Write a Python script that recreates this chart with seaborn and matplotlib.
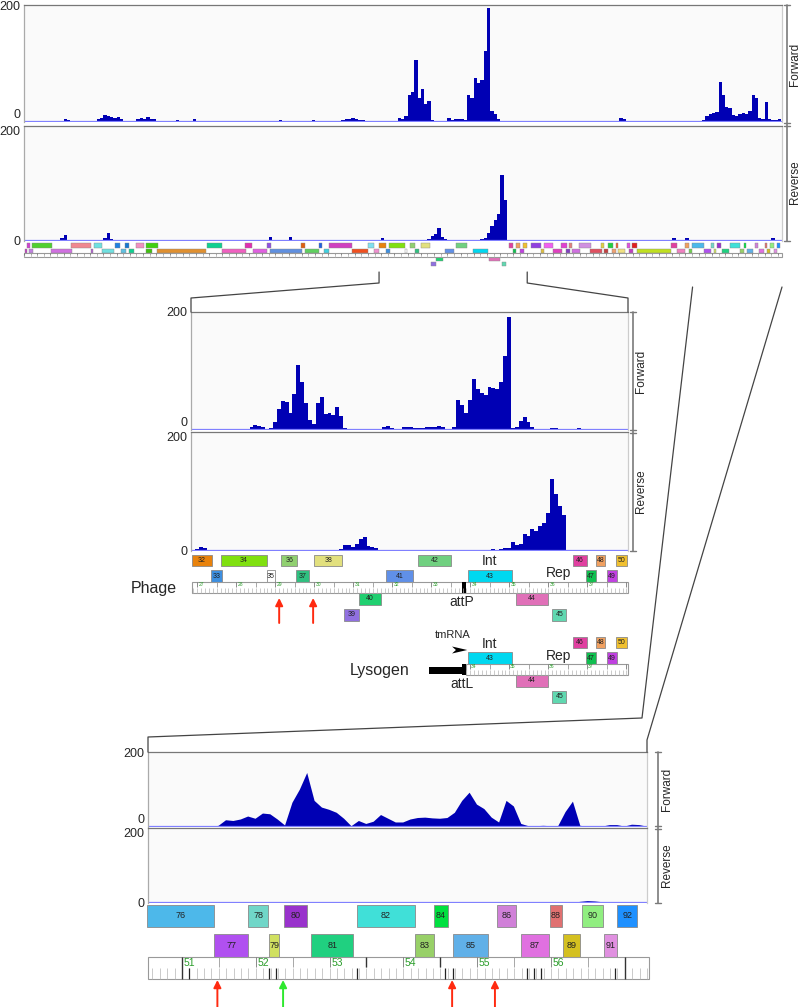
import numpy as np
import pandas as pd
import matplotlib.pyplot as plt
import seaborn as sns
from matplotlib.patches import Rectangle, Polygon

# ---------------- data ----------------
# read coverage over the whole genome, 0.25 kb bins starting at 0 kb
overview_step = 0.25
overview_fwd = [
    0, 1, 0, 1, 1, 0, 1, 1, 0, 1, 1, 1, 3, 2, 1, 1, 0, 1, 1, 1,
    0, 1, 4, 6, 11, 8, 7, 6, 7, 3, 1, 0, 1, 1, 3, 5, 4, 7, 4, 3,
    1, 0, 0, 1, 0, 1, 2, 1, 0, 1, 0, 3, 1, 0, 1, 0, 0, 1, 1, 0,
    0, 1, 0, 1, 1, 1, 0, 0, 1, 0, 1, 1, 0, 0, 1, 1, 0, 2, 1, 0,
    1, 1, 0, 0, 1, 0, 1, 2, 1, 0, 1, 0, 1, 1, 1, 1, 2, 3, 3, 6,
    3, 2, 2, 1, 1, 0, 1, 1, 0, 1, 0, 0, 1, 5, 4, 8, 45, 50, 105, 40,
    55, 30, 35, 2, 1, 0, 1, 1, 5, 2, 3, 3, 4, 2, 45, 40, 75, 65, 70, 120,
    195, 18, 12, 3, 1, 1, 1, 0, 1, 1, 0, 1, 1, 0, 0, 1, 0, 1, 1, 0,
    0, 1, 0, 0, 1, 1, 0, 1, 0, 0, 1, 0, 1, 1, 0, 0, 1, 0, 1, 1,
    5, 4, 1, 0, 1, 0, 0, 1, 1, 0, 1, 0, 0, 1, 0, 1, 1, 0, 1, 0,
    1, 1, 1, 1, 1, 2, 8, 12, 14, 16, 67, 45, 25, 22, 10, 8, 12, 14, 12, 18,
    45, 40, 5, 3, 33, 3, 2, 2, 3, 1,
]
overview_rev = [
    0, 1, 0, 0, 1, 1, 0, 1, 0, 1, 1, 3, 9, 1, 0, 1, 0, 0, 1, 1,
    0, 0, 1, 1, 3, 12, 2, 1, 0, 0, 1, 0, 0, 0, 1, 0, 0, 1, 0, 0,
    0, 0, 1, 0, 0, 0, 1, 0, 0, 0, 0, 0, 0, 1, 0, 0, 0, 0, 1, 0,
    0, 0, 0, 0, 0, 1, 0, 0, 0, 1, 0, 0, 1, 1, 6, 1, 0, 0, 1, 1,
    5, 1, 0, 0, 0, 1, 0, 0, 0, 0, 1, 0, 0, 0, 0, 1, 0, 0, 0, 0,
    1, 1, 0, 0, 0, 1, 1, 1, 4, 1, 0, 0, 0, 0, 0, 0, 0, 0, 0, 0,
    0, 1, 2, 8, 10, 22, 6, 2, 1, 0, 0, 0, 0, 0, 0, 1, 1, 1, 2, 3,
    12, 25, 36, 45, 115, 70, 1, 0, 0, 0, 1, 0, 0, 0, 0, 0, 0, 0, 1, 0,
    0, 0, 0, 0, 0, 0, 0, 1, 0, 0, 0, 0, 0, 0, 0, 1, 0, 0, 0, 0,
    0, 0, 1, 0, 0, 0, 0, 0, 0, 0, 1, 0, 0, 1, 0, 1, 4, 1, 0, 1,
    3, 1, 0, 0, 0, 0, 0, 0, 0, 1, 0, 0, 0, 0, 0, 0, 0, 0, 0, 1,
    0, 0, 0, 0, 0, 1, 3, 1, 0, 1,
]

# phage detail (integrase region), 0.1 kb bins
detail_step = 0.1
phage_start = 26.84
phage_fwd = [
    1, 1, 1, 1, 0, 1, 0, 0, 0, 0, 0, 0, 0, 0, 1, 4, 7, 6, 3, 1,
    2, 12, 35, 48, 46, 28, 60, 110, 80, 45, 15, 8, 45, 55, 25, 28, 24, 38, 22, 2,
    1, 0, 0, 0, 0, 0, 0, 0, 1, 4, 6, 2, 1, 1, 3, 4, 3, 2, 2, 2,
    3, 4, 4, 5, 4, 1, 1, 3, 50, 42, 28, 50, 85, 68, 62, 58, 72, 70, 68, 80,
    125, 192, 2, 3, 14, 20, 12, 4, 1, 1, 1, 1, 2, 2, 1, 1, 1, 0, 1, 2,
    1, 1, 0, 1, 1, 0, 0, 0, 0, 0, 0, 1,
]
phage_rev = [
    0, 2, 5, 3, 0, 0, 0, 1, 0, 0, 0, 0, 0, 0, 0, 1, 0, 0, 0, 0,
    0, 0, 0, 0, 0, 0, 0, 0, 1, 0, 0, 0, 0, 0, 0, 0, 0, 0, 2, 8,
    9, 6, 10, 18, 23, 7, 5, 4, 1, 0, 0, 0, 0, 0, 1, 0, 0, 0, 0, 0,
    0, 0, 0, 0, 0, 0, 0, 0, 0, 0, 0, 0, 0, 0, 1, 1, 1, 2, 1, 2,
    3, 4, 14, 8, 10, 27, 24, 35, 32, 40, 46, 62, 120, 95, 75, 60, 0, 0, 0, 0,
    0, 1, 0, 0, 0, 0, 0, 0, 0, 0, 0, 1,
]

# right end of the genome, 0.1 kb bins
right_start = 50.54
right_fwd = [
    0, 1, 1, 0, 1, 1, 0, 0, 0, 3, 18, 16, 20, 28, 22, 36, 34, 20, 4, 65,
    100, 145, 70, 52, 46, 38, 22, 2, 16, 8, 14, 32, 22, 12, 12, 20, 24, 25, 23, 22,
    24, 38, 70, 92, 60, 48, 25, 12, 70, 55, 8, 2, 2, 3, 2, 2, 40, 68, 3, 1,
    0, 1, 5, 5, 1, 6, 5, 1,
]
right_rev = [
    0, 0, 0, 0, 0, 0, 0, 0, 0, 0, 0, 0, 0, 0, 0, 0, 0, 0, 0, 2,
    1, 0, 0, 0, 0, 0, 0, 0, 0, 0, 0, 0, 0, 0, 0, 0, 0, 0, 0, 0,
    0, 0, 0, 0, 0, 2, 1, 0, 0, 0, 0, 0, 0, 0, 0, 0, 0, 0, 3, 5,
    4, 2, 0, 0, 0, 0, 0, 0,
]

# annotated genes shown in the detail maps (kb); row 0/1 above ruler, 2/3 below
gene_names = ['32', '33', '34', '35', '36', '37', '38', '39', '40', '41', '42', '43',
              '44', '45', '46', '47', '48', '49', '50',
              '76', '77', '78', '79', '80', '81', '82', '83', '84', '85', '86', '87',
              '88', '89', '90', '91', '92']
gene_start = [26.87, 27.35, 27.61, 28.79, 29.15, 29.53, 30.00, 30.76, 31.15, 31.84, 32.66, 33.94,
              35.17, 36.10, 36.63, 36.97, 37.22, 37.51, 37.74,
              50.53, 51.44, 51.90, 52.18, 52.38, 52.75, 53.37, 54.16, 54.41, 54.67, 55.27, 55.59,
              55.98, 56.16, 56.42, 56.72, 56.90]
gene_end = [27.38, 27.63, 28.79, 28.99, 29.56, 29.87, 30.71, 31.15, 31.71, 32.53, 33.51, 35.07,
            35.99, 36.46, 36.99, 37.22, 37.46, 37.76, 38.02,
            51.44, 51.90, 52.17, 52.32, 52.70, 53.32, 54.16, 54.41, 54.60, 55.14, 55.52, 55.97,
            56.15, 56.39, 56.71, 56.90, 57.17]
gene_row = [0, 1, 0, 1, 0, 1, 0, 3, 2, 1, 0, 1, 2, 3, 0, 1, 0, 1, 0,
            0, 1, 0, 1, 0, 1, 0, 1, 0, 1, 0, 1, 0, 1, 0, 1, 0]
gene_color = ['#e8820c', '#3d8fe0', '#80e010', '#ffffff', '#90d070', '#30c080', '#e2e07e',
              '#9070e0', '#20d070', '#6090e8', '#70d080', '#00d8f0', '#e070b8', '#60d8b0',
              '#e040a0', '#10c050', '#f0a060', '#c040e0', '#f0c030',
              '#4db8ea', '#b050f0', '#70d6c8', '#d0e060', '#9932cc', '#20d080', '#40e0d8',
              '#98d068', '#00e040', '#60b0e8', '#d080d8', '#e070e0', '#e07070', '#d4c020',
              '#90ee80', '#e090e0', '#1e90ff']

# remaining genes, drawn only in the genome overview map
map_start = [0.23, 0.60, 3.55, 5.29, 6.88, 7.63, 8.47, 9.22, 13.83, 16.70, 18.37, 20.94, 22.30,
             23.05, 26.00,
             0.08, 0.38, 2.04, 5.06, 5.90, 7.33, 7.94, 9.22, 10.05, 14.97, 17.31, 18.60, 21.24,
             22.68, 24.79, 26.45,
             38.32, 39.30, 40.60, 41.20, 41.95, 43.61, 44.14, 44.75, 45.58, 45.96, 48.90, 49.96,
             39.08, 39.98, 40.97, 41.42, 42.78, 43.84, 44.44, 44.90, 45.73, 46.33, 49.36, 50.26]
map_end = [0.45, 2.10, 5.06, 5.90, 7.26, 7.94, 9.07, 10.13, 14.97, 17.23, 18.67, 21.24, 22.52,
           24.79, 26.45,
           0.23, 0.68, 3.63, 5.22, 6.80, 7.71, 8.31, 9.67, 13.76, 16.78, 18.37, 21.01, 22.30,
           23.05, 26.00, 26.87,
           39.08, 39.98, 41.04, 41.42, 42.86, 43.84, 44.52, 44.90, 45.80, 46.33, 49.36, 50.26,
           39.30, 40.67, 41.27, 42.03, 43.69, 44.14, 44.75, 45.43, 46.03, 48.90, 49.96, 50.50]
map_row = [0] * 15 + [1] * 16 + [0] * 12 + [1] * 12
map_color = ['#d040d0', '#50d030', '#f08890', '#70e0e0', '#2080e0', '#1878d0', '#f090c0',
             '#40d010', '#10d090', '#e030b0', '#9050e0', '#e06010', '#2060e0', '#d040c0',
             '#80e0f0',
             '#c040c0', '#c080e0', '#d070e0', '#b060d0', '#70e0e0', '#60c0e0', '#10d090',
             '#40c010', '#e09030', '#f060c0', '#e060e0', '#6090e0', '#60d060', '#40d0e0',
             '#f05020', '#f090d0',
             '#9040e0', '#f060f0', '#e040d0', '#e08080', '#d090e0', '#e0d040', '#20d040',
             '#f06030', '#e050e0', '#e02020', '#e040a0', '#f0a060',
             '#e0c040', '#e040c0', '#8040c0', '#d070e0', '#e05060', '#c04040', '#f0a070',
             '#f0e080', '#c040c0', '#c0e020', '#f080c0', '#70d050']

# features (kb)
attP_kb = (33.79, 33.89)
chromosome_start_kb = 32.94
tmRNA_kb = 33.53
int_kb, rep_kb = 34.50, 36.25
phage_arrows = [29.10, 29.97]
right_arrows = [51.48, 52.37, 54.66, 55.24]
right_arrow_colors = ['#ff2a10', '#2ee82e', '#ff2a10', '#ff2a10']
right_sites = [51.09, 52.18, 52.27, 53.37, 54.56, 54.67, 55.68, 55.77, 55.87, 56.87]
right_marks_full = [51.0, 57.0]
right_marks_half = [53.5, 54.5]

GENOME = (0.0, 57.3)
PHAGE_VIEW = (26.84, 38.04)
RIGHT_VIEW = (50.54, 57.30)

# ---------------- drawing ----------------
sns.set_style("white")
plt.rcParams['font.family'] = ['Liberation Sans', 'DejaVu Sans']

W, H = 800, 1007
fig = plt.figure(figsize=(W / 100, H / 100), dpi=100)
BLUE = '#0000b4'
GREEN_TXT = '#2a9d2a'


def px_axes(x0, y0, x1, y1):
    return fig.add_axes([x0 / W, 1 - y1 / H, (x1 - x0) / W, (y1 - y0) / H])


def track(box, start, step, vals, view, element, strand):
    ax = px_axes(*box)
    edges = start + step * np.arange(len(vals) + 1)
    df = pd.DataFrame({'kb': edges[:-1] + step / 2, 'reads': vals})
    sns.histplot(data=df, x='kb', weights='reads', bins=edges.tolist(), element=element,
                 fill=True, color=BLUE, alpha=1, linewidth=0, ax=ax)
    ax.axhline(0, color='#8080ff', lw=0.9)
    ax.set_xlim(*view)
    ax.set_ylim(-1.5, 200)
    ax.set_facecolor('#fafafa')
    ax.set_xticks([])
    ax.set_yticks([0, 200])
    ax.set_yticklabels(['0', '200'], fontsize=9)
    ax.tick_params(axis='y', length=2, width=0.7, color='#555', pad=0.5)
    labs = ax.get_yticklabels()
    if strand == 'fwd':
        labs[0].set_va('bottom')
    else:
        labs[1].set_va('top')
    ax.set_xlabel('')
    ax.set_ylabel('')
    ax.spines['top'].set_color('#777')
    ax.spines['left'].set_color('#aaa')
    ax.spines['right'].set_color('#ccc')
    ax.spines['bottom'].set_visible(False)
    for s in ax.spines.values():
        s.set_linewidth(0.9)
    return ax


def map_axes(box, view):
    ax = px_axes(*box)
    ax.set_xlim(*view)
    ax.set_ylim(box[3], box[1])
    ax.axis('off')
    return ax


def genes(ax, starts, ends, rows, colors, row_y, names=None, fs=5, lw=0.6, dy=0):
    lo, hi = ax.get_xlim()
    for i, (s, e, r, c) in enumerate(zip(starts, ends, rows, colors)):
        if r not in row_y or e < lo - 0.01 or s > hi + 0.01:
            continue
        ya, yb = row_y[r]
        ax.add_patch(Rectangle((s, ya + dy), e - s, yb - ya, fc=c, ec='#8a8a8a', lw=lw, clip_on=False))
        if names is not None:
            ax.text((s + e) / 2, (ya + yb) / 2 + dy, names[i], ha='center', va='center',
                    fontsize=fs, color='#222')


def ruler(ax, lo, hi, y0, y1, fs, step=0.1, labels=True):
    h = y1 - y0
    ax.add_patch(Rectangle((lo, y0), hi - lo, h, fc='white', ec='#999', lw=0.8, clip_on=False))
    n = int(round(1 / step))
    ticks = np.arange(np.ceil(lo * n), np.floor(hi * n) + 1) / n
    for t in ticks:
        k = int(round(t * n))
        ax.vlines(t, y0 + 0.52 * h, y1, color='#b5b5b5', lw=0.5, clip_on=False)
        if 2 * k % n == 0:
            ax.vlines(t, y0, y0 + 0.45 * h, color='#999' if k % n else '#777', lw=0.6, clip_on=False)
        if labels and k % n == 0 and t < hi - 0.4:
            ax.text(t + (hi - lo) * 0.003, y0 + 0.04 * h, str(k // n), color=GREEN_TXT,
                    fontsize=fs, ha='left', va='top', clip_on=False)


def up_arrow(ax, x, y_tip, y_tail, color):
    ax.annotate('', xy=(x, y_tip), xytext=(x, y_tail),
                arrowprops=dict(arrowstyle='-|>', color=color, lw=1.4, mutation_scale=11,
                                shrinkA=0, shrinkB=0), annotation_clip=False)


# coverage tracks
top_f = track((24, 5, 782, 122), 0.0, overview_step, overview_fwd, GENOME, 'step', 'fwd')
top_r = track((24, 126, 782, 241), 0.0, overview_step, overview_rev, GENOME, 'step', 'rev')
mid_f = track((191, 312, 628, 430), phage_start, detail_step, phage_fwd, PHAGE_VIEW, 'step', 'fwd')
mid_r = track((191, 432, 628, 551), phage_start, detail_step, phage_rev, PHAGE_VIEW, 'step', 'rev')
bot_f = track((148, 752, 647, 827), right_start, detail_step, right_fwd, RIGHT_VIEW, 'poly', 'fwd')
bot_r = track((148, 828, 647, 903), right_start, detail_step, right_rev, RIGHT_VIEW, 'poly', 'rev')

# genome overview gene map
top_map = map_axes((24, 241, 782, 268), GENOME)
rows_top = {0: (243.3, 247.7), 1: (248.7, 252.7), 2: (256.9, 260.7), 3: (262.0, 266.0)}
genes(top_map, map_start, map_end, map_row, map_color, rows_top, lw=0.3)
genes(top_map, gene_start, gene_end, gene_row, gene_color, rows_top, lw=0.3)
ruler(top_map, GENOME[0], GENOME[1], 253.2, 256.8, 3, step=0.5, labels=False)

# phage map
mid_map = map_axes((191, 552, 628, 706), PHAGE_VIEW)
rows_mid = {0: (555, 566), 1: (570, 582), 2: (593, 605), 3: (609, 621)}
genes(mid_map, gene_start, gene_end, gene_row, gene_color, rows_mid, names=gene_names, fs=5)
ruler(mid_map, 26.87, PHAGE_VIEW[1], 582, 593, 3.6)
mid_map.add_patch(Rectangle((attP_kb[0], 582), attP_kb[1] - attP_kb[0], 11, fc='black', ec='none'))
mid_map.text(int_kb, 561, 'Int', ha='center', va='center', fontsize=10)
mid_map.text(rep_kb, 572.5, 'Rep', ha='center', va='center', fontsize=10)
mid_map.text(attP_kb[0], 601.5, 'attP', ha='center', va='center', fontsize=10)
for kb in phage_arrows:
    up_arrow(mid_map, kb, 598, 623, '#ff2a10')

# lysogen map (integrated prophage, right of attL)
LYS = 82
lys_idx = [i for i, s in enumerate(gene_start) if attP_kb[1] < s < PHAGE_VIEW[1]]
genes(mid_map, [gene_start[i] for i in lys_idx], [gene_end[i] for i in lys_idx],
      [gene_row[i] for i in lys_idx], [gene_color[i] for i in lys_idx], rows_mid,
      names=[gene_names[i] for i in lys_idx], fs=5, dy=LYS)
ruler(mid_map, attP_kb[1], PHAGE_VIEW[1], 582 + LYS, 593 + LYS, 3.6)
mid_map.add_patch(Rectangle((chromosome_start_kb, 585 + LYS), attP_kb[0] - chromosome_start_kb, 6.5,
                            fc='black', ec='none'))
mid_map.add_patch(Rectangle((attP_kb[0], 582 + LYS), attP_kb[1] - attP_kb[0], 11, fc='black', ec='none'))
mid_map.text(int_kb, 562 + LYS, 'Int', ha='center', va='center', fontsize=10)
mid_map.text(rep_kb, 574 + LYS, 'Rep', ha='center', va='center', fontsize=10)
mid_map.text(attP_kb[0], 602 + LYS, 'attL', ha='center', va='center', fontsize=10)
mid_map.text(tmRNA_kb + 0.02, 635, 'tmRNA', ha='center', va='center', fontsize=8)
mid_map.add_patch(Polygon([(tmRNA_kb, 646.5), (tmRNA_kb + 0.39, 650), (tmRNA_kb, 653.5),
                           (tmRNA_kb + 0.1, 650)], closed=True, fc='black', ec='none'))

# right-end map
bot_map = map_axes((148, 903, 647, 1007), RIGHT_VIEW)
rows_bot = {0: (905, 927), 1: (934, 957)}
genes(bot_map, gene_start, gene_end, gene_row, gene_color, rows_bot, names=gene_names, fs=6.5)
ruler(bot_map, RIGHT_VIEW[0], 57.33, 957, 979, 7.5)
bot_map.vlines(right_sites, 968, 979, color='#222', lw=0.9)
bot_map.vlines(right_marks_full, 957, 979, color='#333', lw=1.0)
bot_map.vlines(right_marks_half, 957, 967, color='#333', lw=1.0)
for kb, c in zip(right_arrows, right_arrow_colors):
    up_arrow(bot_map, kb, 980, 1008, c)

# overlay: zoom connectors, strand brackets, labels
ov = fig.add_axes([0, 0, 1, 1])
ov.set_xlim(0, W)
ov.set_ylim(H, 0)
ov.axis('off')
ov.patch.set_alpha(0)


def top_x(kb):
    return 24 + (kb - GENOME[0]) / (GENOME[1] - GENOME[0]) * 758


LINE = dict(color='#444', lw=0.9)
ov.plot([top_x(PHAGE_VIEW[0])] * 2 + [191, 191], [272, 283, 298, 312], **LINE)
ov.plot([top_x(PHAGE_VIEW[1])] * 2 + [628, 628], [272, 283, 298, 312], **LINE)
ov.plot([top_x(RIGHT_VIEW[0]), 642, 148, 148], [287, 718, 737, 752], **LINE)
ov.plot([top_x(RIGHT_VIEW[1]), 647, 647], [287, 740, 752], **LINE)


def bracket(x, y0, ym, y1, tx):
    c = '#7a7a7a'
    ov.plot([x, x], [y0, y1], color=c, lw=1.2)
    for y in (y0, y1, ym - 1.5, ym + 1.5):
        ov.plot([x - 3, x + 3], [y, y], color=c, lw=1.0)
    ov.text(tx, (y0 + ym) / 2, 'Forward', rotation=90, ha='center', va='center', fontsize=8.5)
    ov.text(tx, (ym + y1) / 2, 'Reverse', rotation=90, ha='center', va='center', fontsize=8.5)


bracket(787, 5, 124, 241, 795)
bracket(633, 312, 431, 551, 641)
bracket(658, 752, 827.5, 903, 667)

ov.text(177, 588, 'Phage', ha='right', va='center', fontsize=11.5)
ov.text(380, 671, 'Lysogen', ha='center', va='center', fontsize=11.5)

fig.savefig('out.png', dpi=100)
